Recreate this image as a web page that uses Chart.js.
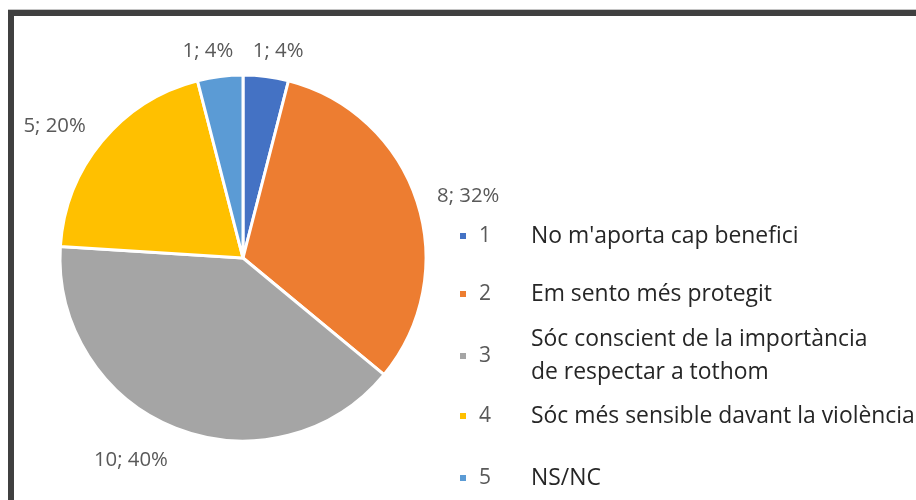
<!DOCTYPE html>
<html><head><meta charset="utf-8">
<script src="https://cdn.jsdelivr.net/npm/chart.js@4/dist/chart.umd.min.js"></script>
<style>html,body{margin:0;padding:0;background:#fff;}#wrap{position:relative;width:916px;height:500px;}</style>
</head><body><div id="wrap"><canvas id="c" width="916" height="500"></canvas></div>
<script>
// ---- data ----
const categories = ['1', '2', '3', '4', '5'];
const descriptions = [
  ["No m'aporta cap benefici"],
  ["Em sento més protegit"],
  ["Sóc conscient de la importància", "de respectar a tothom"],
  ["Sóc més sensible davant la violència"],
  ["NS/NC"]
];
const counts = [1, 8, 10, 5, 1];
const percents = [4, 32, 40, 20, 4];

// ---- style ----
const colors = ['#4472C4', '#ED7D31', '#A5A5A5', '#FFC000', '#5B9BD5'];
const FAMILY = '"Open Sans", "DejaVu Sans", sans-serif';
const legendRowY = [236, 294, 356, 416, 478];
const legendSquareX = 460, legendNumX = 479, legendDescX = 531;

function fitSize(ctx, text, target) {
  ctx.font = '100px ' + FAMILY;
  return 100 * target / ctx.measureText(text).width;
}

const framePlugin = {
  id: 'frame',
  beforeDraw(chart) {
    const ctx = chart.ctx;
    ctx.save();
    ctx.fillStyle = '#ffffff';
    ctx.fillRect(0, 0, chart.width, chart.height);
    ctx.fillStyle = '#c4c4c4';
    ctx.fillRect(8, 9, chart.width - 8, 1);
    ctx.fillStyle = '#404040';
    ctx.fillRect(8, 10, chart.width - 8, 6);
    ctx.fillRect(8, 10, 6, chart.height - 10);
    ctx.restore();
  }
};

const labelPlugin = {
  id: 'sliceLabels',
  afterDatasetsDraw(chart) {
    const ctx = chart.ctx;
    const meta = chart.getDatasetMeta(0);
    const size = fitSize(ctx, '10; 40%', 74);
    ctx.save();
    ctx.font = size.toFixed(2) + 'px ' + FAMILY;
    ctx.fillStyle = '#595959';
    ctx.textAlign = 'center';
    ctx.textBaseline = 'middle';
    const h = size * 0.85;
    meta.data.forEach((arc, i) => {
      const p = arc.getProps(['x', 'y', 'startAngle', 'endAngle', 'outerRadius'], true);
      const mid = (p.startAngle + p.endAngle) / 2;
      const r = p.outerRadius + 21;
      const px = p.x + Math.cos(mid) * r;
      const py = p.y + Math.sin(mid) * r;
      const text = counts[i] + '; ' + percents[i] + '%';
      const w = ctx.measureText(text).width;
      const sx = Math.max(-1, Math.min(1, Math.cos(mid) * 3));
      const cx = px + sx * w / 2;
      const cy = py + Math.sin(mid) * h / 2 + 4;
      ctx.fillText(text, cx, cy);
    });
    ctx.restore();
  }
};

const legendPlugin = {
  id: 'sideLegend',
  afterDraw(chart) {
    const ctx = chart.ctx;
    const descSize = fitSize(ctx, descriptions[3][0], 384);
    ctx.save();
    ctx.textBaseline = 'middle';
    ctx.textAlign = 'left';
    categories.forEach((cat, i) => {
      const y = legendRowY[i];
      ctx.fillStyle = colors[i];
      ctx.fillRect(legendSquareX, y - 3, 6, 6);
      ctx.fillStyle = '#595959';
      ctx.font = '21px ' + FAMILY;
      ctx.fillText(cat, legendNumX, y);
      ctx.fillStyle = '#262626';
      ctx.font = descSize.toFixed(2) + 'px ' + FAMILY;
      const lines = descriptions[i];
      const lh = 33;
      lines.forEach((ln, j) => {
        const ly = y + (j - (lines.length - 1) / 2) * lh;
        ctx.fillText(ln, legendDescX, ly);
      });
    });
    ctx.restore();
  }
};

new Chart(document.getElementById('c').getContext('2d'), {
  type: 'pie',
  data: {
    labels: categories,
    datasets: [{
      data: counts,
      backgroundColor: colors,
      borderColor: '#ffffff',
      borderWidth: 3
    }]
  },
  options: {
    responsive: false,
    animation: false,
    layout: { padding: { left: 58.5, top: 73.5, right: 488.5, bottom: 57.5 } },
    plugins: { legend: { display: false }, tooltip: { enabled: false } }
  },
  plugins: [framePlugin, labelPlugin, legendPlugin]
});
</script>
</body></html>
